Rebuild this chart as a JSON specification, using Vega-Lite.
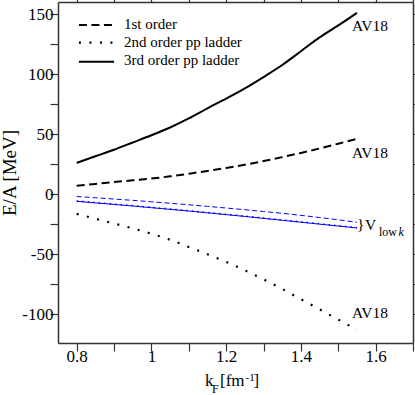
{
  "$schema": "https://vega.github.io/schema/vega-lite/v6.json",
  "width": 355,
  "height": 341,
  "autosize": {"type": "none"},
  "padding": {"left": 58, "top": 2, "right": 2, "bottom": 52},
  "background": "white",
  "config": {
    "view": {"stroke": null},
    "font": "Liberation Serif",
    "axis": {"grid": false, "labelFont": "Liberation Serif", "titleFont": "Liberation Serif"},
    "text": {"font": "Liberation Serif"}
  },
  "datasets": {
    "curves": [
      {"s":"d1","g":"c","k":0.8,"e":7},{"s":"d1","g":"c","k":0.85,"e":8.5},{"s":"d1","g":"c","k":0.9,"e":10},{"s":"d1","g":"c","k":0.95,"e":11.5},{"s":"d1","g":"c","k":1,"e":13},{"s":"d1","g":"c","k":1.05,"e":14.8},{"s":"d1","g":"c","k":1.1,"e":17},{"s":"d1","g":"c","k":1.15,"e":19.3},{"s":"d1","g":"c","k":1.2,"e":21.8},{"s":"d1","g":"c","k":1.25,"e":24.5},{"s":"d1","g":"c","k":1.3,"e":27.5},{"s":"d1","g":"c","k":1.35,"e":30.8},{"s":"d1","g":"c","k":1.4,"e":34.3},{"s":"d1","g":"c","k":1.45,"e":38},{"s":"d1","g":"c","k":1.5,"e":42},{"s":"d1","g":"c","k":1.55,"e":46},
      {"s":"d2","g":"c","k":0.8,"e":-16.5},{"s":"d2","g":"c","k":0.85,"e":-20.5},{"s":"d2","g":"c","k":0.9,"e":-24.5},{"s":"d2","g":"c","k":0.95,"e":-28.5},{"s":"d2","g":"c","k":1,"e":-33},{"s":"d2","g":"c","k":1.05,"e":-38},{"s":"d2","g":"c","k":1.1,"e":-44},{"s":"d2","g":"c","k":1.15,"e":-50},{"s":"d2","g":"c","k":1.2,"e":-56.5},{"s":"d2","g":"c","k":1.25,"e":-63.5},{"s":"d2","g":"c","k":1.3,"e":-71},{"s":"d2","g":"c","k":1.35,"e":-79},{"s":"d2","g":"c","k":1.4,"e":-87.5},{"s":"d2","g":"c","k":1.45,"e":-96},{"s":"d2","g":"c","k":1.5,"e":-104.5},{"s":"d2","g":"c","k":1.55,"e":-113},
      {"s":"d3","g":"c","k":0.8,"e":26},{"s":"d3","g":"c","k":0.85,"e":31.5},{"s":"d3","g":"c","k":0.9,"e":37},{"s":"d3","g":"c","k":0.95,"e":43},{"s":"d3","g":"c","k":1,"e":49},{"s":"d3","g":"c","k":1.05,"e":55.5},{"s":"d3","g":"c","k":1.1,"e":63},{"s":"d3","g":"c","k":1.15,"e":71.5},{"s":"d3","g":"c","k":1.2,"e":79.5},{"s":"d3","g":"c","k":1.25,"e":88},{"s":"d3","g":"c","k":1.3,"e":97.5},{"s":"d3","g":"c","k":1.35,"e":107.5},{"s":"d3","g":"c","k":1.4,"e":119},{"s":"d3","g":"c","k":1.45,"e":130.5},{"s":"d3","g":"c","k":1.5,"e":140.5},{"s":"d3","g":"c","k":1.55,"e":151},
      {"s":"v1","g":"c","k":0.8,"e":-2},{"s":"v1","g":"c","k":0.85,"e":-3},{"s":"v1","g":"c","k":0.9,"e":-4.1},{"s":"v1","g":"c","k":0.95,"e":-5.2},{"s":"v1","g":"c","k":1,"e":-6.4},{"s":"v1","g":"c","k":1.05,"e":-7.6},{"s":"v1","g":"c","k":1.1,"e":-8.9},{"s":"v1","g":"c","k":1.15,"e":-10.2},{"s":"v1","g":"c","k":1.2,"e":-11.6},{"s":"v1","g":"c","k":1.25,"e":-13},{"s":"v1","g":"c","k":1.3,"e":-14.5},{"s":"v1","g":"c","k":1.35,"e":-16},{"s":"v1","g":"c","k":1.4,"e":-17.7},{"s":"v1","g":"c","k":1.45,"e":-19.5},{"s":"v1","g":"c","k":1.5,"e":-21.4},{"s":"v1","g":"c","k":1.55,"e":-23.5},
      {"s":"v2","g":"c","k":0.8,"e":-5.7},{"s":"v2","g":"c","k":0.85,"e":-7.0},{"s":"v2","g":"c","k":0.9,"e":-8.3},{"s":"v2","g":"c","k":0.95,"e":-9.6},{"s":"v2","g":"c","k":1,"e":-11.0},{"s":"v2","g":"c","k":1.05,"e":-12.4},{"s":"v2","g":"c","k":1.1,"e":-13.8},{"s":"v2","g":"c","k":1.15,"e":-15.3},{"s":"v2","g":"c","k":1.2,"e":-16.8},{"s":"v2","g":"c","k":1.25,"e":-18.3},{"s":"v2","g":"c","k":1.3,"e":-19.9},{"s":"v2","g":"c","k":1.35,"e":-21.5},{"s":"v2","g":"c","k":1.4,"e":-23.1},{"s":"v2","g":"c","k":1.45,"e":-24.7},{"s":"v2","g":"c","k":1.5,"e":-26.3},{"s":"v2","g":"c","k":1.55,"e":-27.9},
      {"s":"v3","g":"c","k":0.8,"e":-6},{"s":"v3","g":"c","k":0.85,"e":-7.3},{"s":"v3","g":"c","k":0.9,"e":-8.6},{"s":"v3","g":"c","k":0.95,"e":-9.9},{"s":"v3","g":"c","k":1,"e":-11.3},{"s":"v3","g":"c","k":1.05,"e":-12.7},{"s":"v3","g":"c","k":1.1,"e":-14.1},{"s":"v3","g":"c","k":1.15,"e":-15.6},{"s":"v3","g":"c","k":1.2,"e":-17.1},{"s":"v3","g":"c","k":1.25,"e":-18.6},{"s":"v3","g":"c","k":1.3,"e":-20.2},{"s":"v3","g":"c","k":1.35,"e":-21.8},{"s":"v3","g":"c","k":1.4,"e":-23.4},{"s":"v3","g":"c","k":1.45,"e":-25},{"s":"v3","g":"c","k":1.5,"e":-26.6},{"s":"v3","g":"c","k":1.55,"e":-28.2},
      {"s":"d1","g":"l","k":0.806,"e":140.8},{"s":"d1","g":"l","k":0.9,"e":140.8},
      {"s":"d2","g":"l","k":0.806,"e":126.1},{"s":"d2","g":"l","k":0.9,"e":126.1},
      {"s":"d3","g":"l","k":0.806,"e":110.3},{"s":"d3","g":"l","k":0.9,"e":110.3}
    ],
    "labels": [
      {"kind":"legend","t":"1st order","k":0.9266,"e":137.3},
      {"kind":"legend","t":"2nd order pp ladder","k":0.9266,"e":122.8},
      {"kind":"legend","t":"3rd order pp ladder","k":0.9266,"e":107.5},
      {"kind":"tag","t":"AV18","k":1.5368,"e":135.8},
      {"kind":"tag","t":"AV18","k":1.5368,"e":29.8},
      {"kind":"tag","t":"AV18","k":1.5368,"e":-103.4},
      {"kind":"tag","t":"}","k":1.5501,"e":-29.06},
      {"kind":"tag","t":"V","k":1.5716,"e":-29.9},
      {"kind":"sub","t":"low","k":1.609,"e":-34.5},
      {"kind":"subit","t":"k","k":1.6612,"e":-34.5},
      {"kind":"title","t":"k","k":1.1434,"e":-159.8},
      {"kind":"title","t":"[fm","k":1.1835,"e":-159.8},
      {"kind":"title","t":"]","k":1.2732,"e":-159.8},
      {"kind":"tsub","t":"F","k":1.1621,"e":-165.6},
      {"kind":"tsup","t":"-1","k":1.2518,"e":-155.7}
    ]
  },
  "resolve": {"axis": {"x": "independent", "y": "independent"}},
  "layer": [
    {
      "data": {"name": "curves"},
      "transform": [{"filter": "datum.s === 'd1'"}],
      "mark": {"type": "line", "color": "black", "strokeWidth": 2, "strokeDash": [8, 4.5], "interpolate": "monotone"},
      "encoding": {
        "x": {"field": "k", "type": "quantitative", "scale": {"domain": [0.75, 1.7], "nice": false, "zero": false},
          "axis": {"orient": "bottom", "values": [0.8,0.9,1,1.1,1.2,1.3,1.4,1.5,1.6,1.7],
            "labelExpr": "indexof([0.8,1,1.2,1.4,1.6], datum.value) >= 0 ? '' + datum.value : ''",
            "ticks": true, "tickSize": 8, "tickColor": "#333", "tickWidth": 1.2, "domainColor": "#333", "domainWidth": 1.5,
            "labelFont": "Liberation Serif", "labelFontSize": 17, "labelColor": "black", "labelPadding": -3,
            "labelFlush": false, "labelOverlap": false, "labelBound": false, "title": null,
            "encode": {
              "ticks": {"update": {"y2": {"signal": "indexof([0.8,1,1.2,1.4,1.6], datum.value) >= 0 ? -8 : -4"}}},
              "labels": {"update": {"font": {"value": "Liberation Serif"}}}}}},
        "y": {"field": "e", "type": "quantitative", "scale": {"domain": [-124, 160], "nice": false, "zero": false},
          "axis": {"orient": "left", "values": [-100,-75,-50,-25,0,25,50,75,100,125,150],
            "labelExpr": "datum.value % 50 === 0 ? '' + datum.value : ''",
            "ticks": true, "tickSize": 8, "tickColor": "#333", "tickWidth": 1.2, "domainColor": "#333", "domainWidth": 1.5,
            "labelFont": "Liberation Serif", "labelFontSize": 17, "labelColor": "black", "labelPadding": -3,
            "labelFlush": false, "labelOverlap": false, "labelBound": false,
            "title": "E/A [MeV]", "titleFont": "Liberation Serif", "titleFontSize": 19, "titleFontWeight": "normal", "titleColor": "black", "titlePadding": 2,
            "encode": {
              "ticks": {"update": {"x2": {"signal": "datum.value % 50 === 0 ? 8 : 4"}}},
              "labels": {"update": {"font": {"value": "Liberation Serif"}}}}}},
        "detail": {"field": "g"}
      }
    },
    {
      "data": {"name": "curves"},
      "transform": [{"filter": "datum.s === 'd2'"}],
      "mark": {"type": "line", "color": "black", "strokeWidth": 2.2, "strokeDash": [2, 8.5], "interpolate": "monotone"},
      "encoding": {
        "x": {"field": "k", "type": "quantitative", "scale": {"domain": [0.75, 1.7], "nice": false, "zero": false},
          "axis": {"orient": "top", "values": [0.8,0.9,1,1.1,1.2,1.3,1.4,1.5,1.6,1.7], "labels": false,
            "ticks": true, "tickSize": 8, "tickColor": "#333", "tickWidth": 1.2, "domainColor": "#333", "domainWidth": 1.5, "title": null,
            "encode": {"ticks": {"update": {"y2": {"signal": "indexof([0.8,1,1.2,1.4,1.6], datum.value) >= 0 ? 8 : 4"}}}}}},
        "y": {"field": "e", "type": "quantitative", "scale": {"domain": [-124, 160], "nice": false, "zero": false},
          "axis": {"orient": "right", "values": [-100,-75,-50,-25,0,25,50,75,100,125,150], "labels": false,
            "ticks": true, "tickSize": 8, "tickColor": "#333", "tickWidth": 1.2, "domainColor": "#333", "domainWidth": 1.5, "title": null,
            "encode": {"ticks": {"update": {"x2": {"signal": "datum.value % 50 === 0 ? -8 : -4"}}}}}},
        "detail": {"field": "g"}
      }
    },
    {
      "data": {"name": "curves"},
      "transform": [{"filter": "datum.s === 'd3'"}],
      "mark": {"type": "line", "color": "black", "strokeWidth": 2, "interpolate": "monotone"},
      "encoding": {
        "x": {"field": "k", "type": "quantitative", "axis": null},
        "y": {"field": "e", "type": "quantitative", "axis": null},
        "detail": {"field": "g"}
      }
    },
    {
      "data": {"name": "curves"},
      "transform": [{"filter": "datum.s === 'v1'"}],
      "mark": {"type": "line", "color": "#0000ff", "strokeWidth": 1, "strokeDash": [5, 3], "interpolate": "monotone"},
      "encoding": {
        "x": {"field": "k", "type": "quantitative", "axis": null},
        "y": {"field": "e", "type": "quantitative", "axis": null}
      }
    },
    {
      "data": {"name": "curves"},
      "transform": [{"filter": "datum.s === 'v3'"}],
      "mark": {"type": "line", "color": "#0000ff", "strokeWidth": 1, "interpolate": "monotone"},
      "encoding": {
        "x": {"field": "k", "type": "quantitative", "axis": null},
        "y": {"field": "e", "type": "quantitative", "axis": null}
      }
    },
    {
      "data": {"name": "curves"},
      "transform": [{"filter": "datum.s === 'v2'"}],
      "mark": {"type": "line", "color": "#0000ff", "strokeWidth": 1.5, "strokeDash": [1.5, 4], "interpolate": "monotone"},
      "encoding": {
        "x": {"field": "k", "type": "quantitative", "axis": null},
        "y": {"field": "e", "type": "quantitative", "axis": null}
      }
    },
    {
      "data": {"name": "labels"},
      "transform": [{"filter": "datum.kind === 'legend'"}],
      "mark": {"type": "text", "align": "left", "baseline": "alphabetic", "font": "Liberation Serif", "fontSize": 15, "color": "black"},
      "encoding": {
        "x": {"field": "k", "type": "quantitative", "axis": null},
        "y": {"field": "e", "type": "quantitative", "axis": null},
        "text": {"field": "t"}
      }
    },
    {
      "data": {"name": "labels"},
      "transform": [{"filter": "datum.kind === 'tag'"}],
      "mark": {"type": "text", "align": "left", "baseline": "alphabetic", "font": "Liberation Serif", "fontSize": 15.5, "color": "black"},
      "encoding": {
        "x": {"field": "k", "type": "quantitative", "axis": null},
        "y": {"field": "e", "type": "quantitative", "axis": null},
        "text": {"field": "t"}
      }
    },
    {
      "data": {"name": "labels"},
      "transform": [{"filter": "datum.kind === 'sub'"}],
      "mark": {"type": "text", "align": "left", "baseline": "alphabetic", "font": "Liberation Serif", "fontSize": 12, "color": "black"},
      "encoding": {
        "x": {"field": "k", "type": "quantitative", "axis": null},
        "y": {"field": "e", "type": "quantitative", "axis": null},
        "text": {"field": "t"}
      }
    },
    {
      "data": {"name": "labels"},
      "transform": [{"filter": "datum.kind === 'subit'"}],
      "mark": {"type": "text", "align": "left", "baseline": "alphabetic", "font": "Liberation Serif", "fontSize": 12, "fontStyle": "italic", "color": "black"},
      "encoding": {
        "x": {"field": "k", "type": "quantitative", "axis": null},
        "y": {"field": "e", "type": "quantitative", "axis": null},
        "text": {"field": "t"}
      }
    },
    {
      "data": {"name": "labels"},
      "transform": [{"filter": "datum.kind === 'title'"}],
      "mark": {"type": "text", "align": "left", "baseline": "alphabetic", "font": "Liberation Serif", "fontSize": 17, "color": "black"},
      "encoding": {
        "x": {"field": "k", "type": "quantitative", "axis": null},
        "y": {"field": "e", "type": "quantitative", "axis": null},
        "text": {"field": "t"}
      }
    },
    {
      "data": {"name": "labels"},
      "transform": [{"filter": "datum.kind === 'tsub'"}],
      "mark": {"type": "text", "align": "left", "baseline": "alphabetic", "font": "Liberation Serif", "fontSize": 12, "color": "black"},
      "encoding": {
        "x": {"field": "k", "type": "quantitative", "axis": null},
        "y": {"field": "e", "type": "quantitative", "axis": null},
        "text": {"field": "t"}
      }
    },
    {
      "data": {"name": "labels"},
      "transform": [{"filter": "datum.kind === 'tsup'"}],
      "mark": {"type": "text", "align": "left", "baseline": "alphabetic", "font": "Liberation Serif", "fontSize": 11, "color": "black"},
      "encoding": {
        "x": {"field": "k", "type": "quantitative", "axis": null},
        "y": {"field": "e", "type": "quantitative", "axis": null},
        "text": {"field": "t"}
      }
    }
  ]
}
